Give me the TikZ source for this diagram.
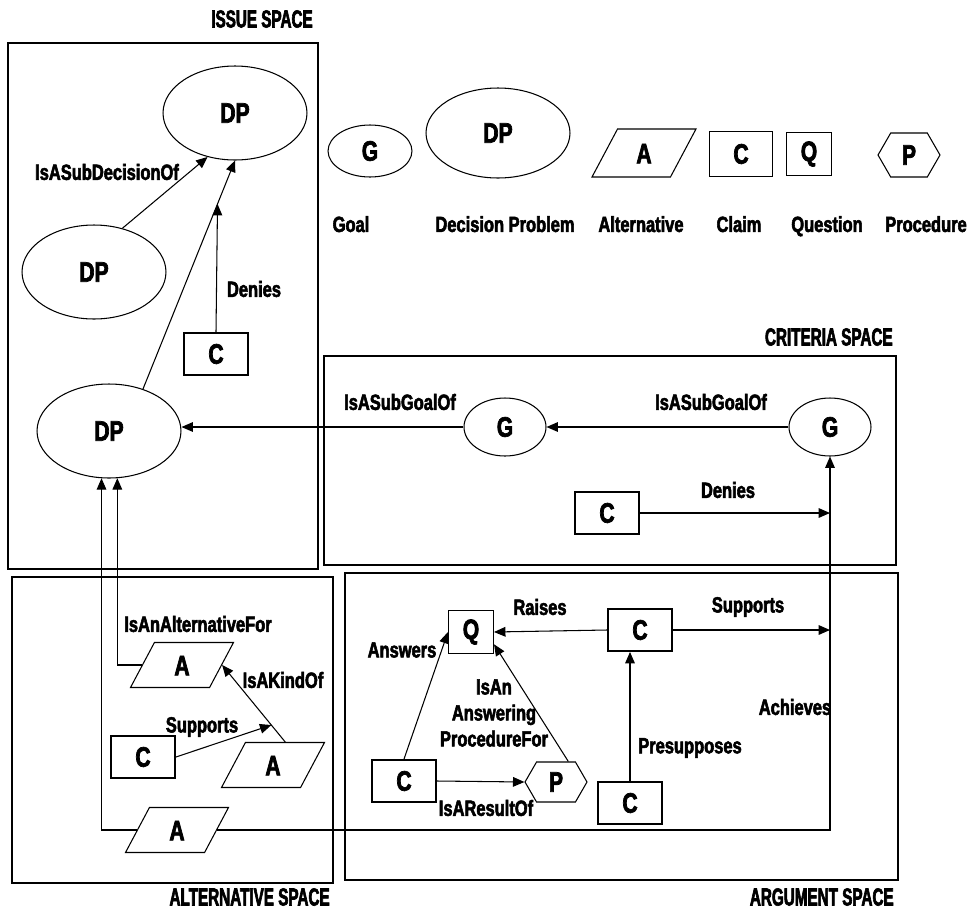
\documentclass[tikz,border=0pt]{standalone}
\usepackage{fontspec}
\setmainfont{Liberation Sans}[FakeStretch=0.75,FakeBold=2.5]
\newfontfamily\ttlfont{Liberation Sans}[FakeStretch=0.62,FakeBold=2.5]
\usetikzlibrary{arrows.meta,shapes.geometric,shapes.symbols}

\begin{document}
\begin{tikzpicture}[x=0.02cm, y=-0.02cm,
  every node/.style={inner sep=0pt},
  sym/.style={draw, line width=0.6pt, font=\fontsize{16}{18}\selectfont\bfseries},
  dprob/.style={sym, ellipse, minimum width=28.8mm, minimum height=18.8mm},
  goal/.style={sym, ellipse, minimum width=16.4mm, minimum height=11.6mm},
  claim/.style={sym, rectangle, line width=1.1pt, minimum width=12.8mm, minimum height=8.4mm},
  quest/.style={sym, rectangle, minimum width=9mm, minimum height=8.6mm},
  altern/.style={sym, trapezium, trapezium left angle=62, trapezium right angle=118,
    trapezium stretches body, text height=4.1mm, text depth=0pt, inner ysep=2.45mm,
    minimum width=20.6mm},
  proc/.style={sym, signal, signal to=east and west, signal pointer angle=120,
    minimum width=12.4mm, minimum height=8.4mm},
  rel/.style={font=\fontsize{12.5}{14.8}\selectfont\bfseries},
  keylbl/.style={rel, text depth=0pt},
  space/.style={font=\ttlfont\bfseries\fontsize{14}{16}\selectfont},
  region/.style={line width=1pt},
  arr/.style={-{Triangle[length=6.5pt,width=5.5pt]}, line width=0.6pt},
]
  \useasboundingbox (0,0) rectangle (974,910);

  % issue space
  \node[space] (t-issue) at (262,19) {ISSUE SPACE};
  \draw[region] (8,43) rectangle (318,569);
  \node[dprob] (dp1) at (235,113) {DP};
  \node[dprob] (dp2) at (94,272) {DP};
  \node[dprob] (dp3) at (109,431) {DP};
  \node[claim] (c1) at (216,354) {C};

  % legend
  \node[goal, minimum width=16.8mm, minimum height=10.4mm] (lg-g) at (370,151) {G};
  \node[dprob, minimum height=18mm] (lg-dp) at (498,133) {DP};
  \node[altern, minimum width=20.8mm, inner ysep=2.75mm] (lg-a) at (644,153) {A};
  \node[claim, minimum width=12.6mm, minimum height=9mm] (lg-c) at (741,154) {C};
  \node[quest] (lg-q) at (809,154) {Q};
  \node[proc, minimum height=8.8mm] (lg-p) at (909,155) {P};
  \node[keylbl] (lg-goal) at (351,224) {Goal};
  \node[keylbl] (lg-dprob) at (505,224) {Decision Problem};
  \node[keylbl] (lg-alt) at (641,224) {Alternative};
  \node[keylbl] (lg-claim) at (739,224) {Claim};
  \node[keylbl] (lg-quest) at (827,224) {Question};
  \node[keylbl] (lg-proc) at (926,224) {Procedure};

  % criteria space
  \node[space, anchor=east] (t-crit) at (893,337) {CRITERIA SPACE};
  \draw[region] (324,356) rectangle (896,565);
  \node[goal] (g1) at (505,427) {G};
  \node[goal] (g2) at (830,427) {G};
  \node[claim] (c2) at (607,513) {C};

  % alternative space
  \node[space, anchor=east] (t-alt) at (330,897) {ALTERNATIVE SPACE};
  \draw[region] (12,577) rectangle (333,883);
  \node[altern] (a1) at (182,665) {A};
  \node[altern] (a2) at (273,765) {A};
  \node[altern] (a3) at (177,830) {A};
  \node[claim] (c3) at (143,757) {C};

  % argument space
  \node[space, anchor=east] (t-arg) at (894,897) {ARGUMENT SPACE};
  \draw[region] (345,573) rectangle (898,880);
  \node[quest] (q1) at (471,632) {Q};
  \node[claim] (c4) at (640,630) {C};
  \node[claim] (c5) at (404,781) {C};
  \node[proc, minimum height=8mm] (p1) at (556,782) {P};
  \node[claim] (c6) at (630,803) {C};

  % relations
  \draw[arr] (dp2.57) -- (dp1.238);
  \draw[arr] (dp3.51) -- (dp1.south) coordinate[pos=0.81] (den);
  \draw[arr] (c1.north) -- (den);
  \draw[arr] (g1.west) -- (g1.west -| dp3.east);
  \draw[arr] (g2) -- (g1);
  \draw[arr] (c2.east) -- (c2.east -| g2);
  \draw[arr] (a3.east) -| (g2.south);
  \draw[arr] (a1.west) -| (dp3.-80);
  \draw[arr] (a3.west) -| (dp3.-99);
  \draw[arr] (a2.62) -- (a1.east) coordinate[pos=0.22] (kind);
  \draw[arr] (c3.east) -- (kind);
  \draw[arr] (c4.west) -- (q1.east);
  \draw[arr] (c4.east) -- (c4.east -| g2);
  \draw[arr] (c5.north) -- (q1.west);
  \draw[arr] (c5.east) -- (p1.west);
  \draw[arr] (p1.59) -- (q1.-28);
  \draw[arr] (c6.north) -- (c6.north |- c4.south);

  % labels
  \node[rel] (l-subdec) at (107,172) {IsASubDecisionOf};
  \node[rel] (l-deny1) at (254,289) {Denies};
  \node[rel] (l-sg1) at (400,402) {IsASubGoalOf};
  \node[rel] (l-sg2) at (711,402) {IsASubGoalOf};
  \node[rel] (l-deny2) at (728,490) {Denies};
  \node[rel] (l-altfor) at (198,624) {IsAnAlternativeFor};
  \node[rel] (l-kind) at (283,680) {IsAKindOf};
  \node[rel] (l-sup1) at (202,727) {Supports};
  \node[rel] (l-raise) at (540,607) {Raises};
  \node[rel] (l-sup2) at (748,607) {Supports};
  \node[rel] (l-ans) at (402,650) {Answers};
  \node[rel, align=center] (l-ansproc) at (494,713) {IsAn\\Answering\\ProcedureFor};
  \node[rel] (l-presup) at (690,748) {Presupposes};
  \node[rel] (l-achv) at (795,707) {Achieves};
  \node[rel] (l-result) at (486,808) {IsAResultOf};
\end{tikzpicture}
\end{document}
